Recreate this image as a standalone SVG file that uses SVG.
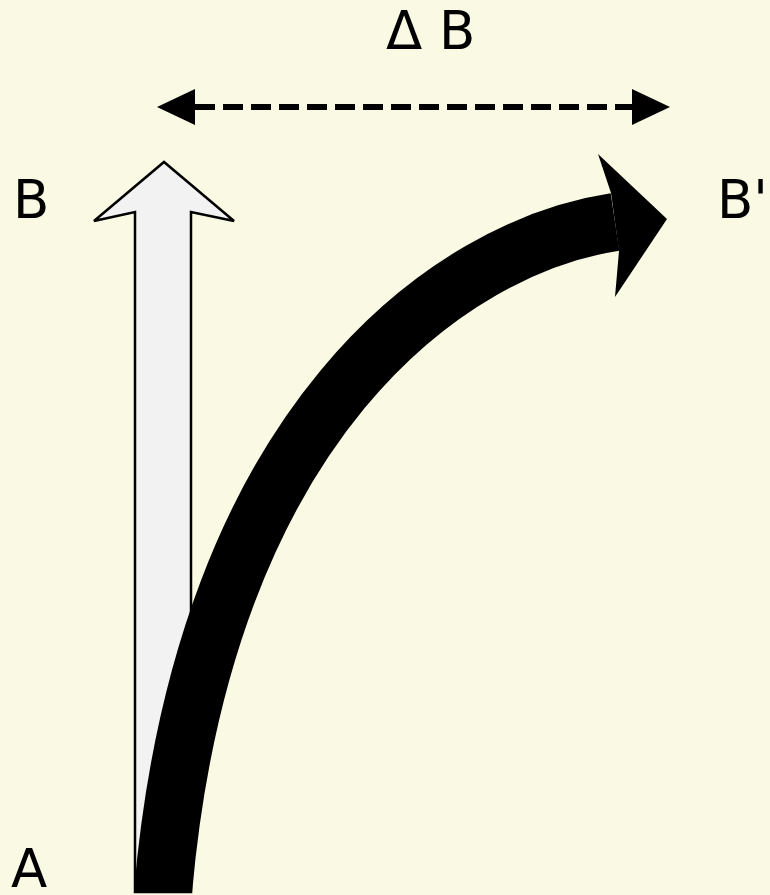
<svg xmlns="http://www.w3.org/2000/svg" width="770" height="895" viewBox="0 0 770 895">
<defs>
<style>
.lbl{font-family:"DejaVu Sans","Liberation Sans",sans-serif;font-size:53px;fill:#000}
</style>
<marker id="ah" viewBox="0 0 38 36" refX="0" refY="18" markerWidth="38" markerHeight="36" markerUnits="userSpaceOnUse" orient="auto-start-reverse">
<path d="M0,0 L38,18 L0,36 Z" fill="#000"/>
</marker>
<clipPath id="cut"><rect x="0" y="0" width="770" height="892"/></clipPath>
</defs>
<rect x="0" y="0" width="770" height="895" fill="#fafae4"/>
<g id="straight-arrow">
<path d="M135,892 L135,212 L94,221 L164,162 L234,221 L191,212 L191,892 Z" fill="#f2f2f2" stroke="#000" stroke-width="2.5" stroke-linejoin="miter"/>
</g>
<g id="curved-arrow">
<path d="M162,905 L163,892 C204,420 450,247 615,222" fill="none" stroke="#000" stroke-width="58" clip-path="url(#cut)"/>
<path d="M598,154 L667,219 L615,297 L619,251 L611,193 Z" fill="#000"/>
</g>
<g id="connectors">
<line x1="195" y1="107" x2="632" y2="107" stroke="#000" stroke-width="6" stroke-dasharray="20,8" marker-start="url(#ah)" marker-end="url(#ah)"/>
</g>
<g id="labels">
<text class="lbl" x="386" y="49">Δ B</text>
<text class="lbl" x="13" y="218">B</text>
<text class="lbl" x="717" y="218">B'</text>
<text class="lbl" x="11" y="887">A</text>
</g>
</svg>
